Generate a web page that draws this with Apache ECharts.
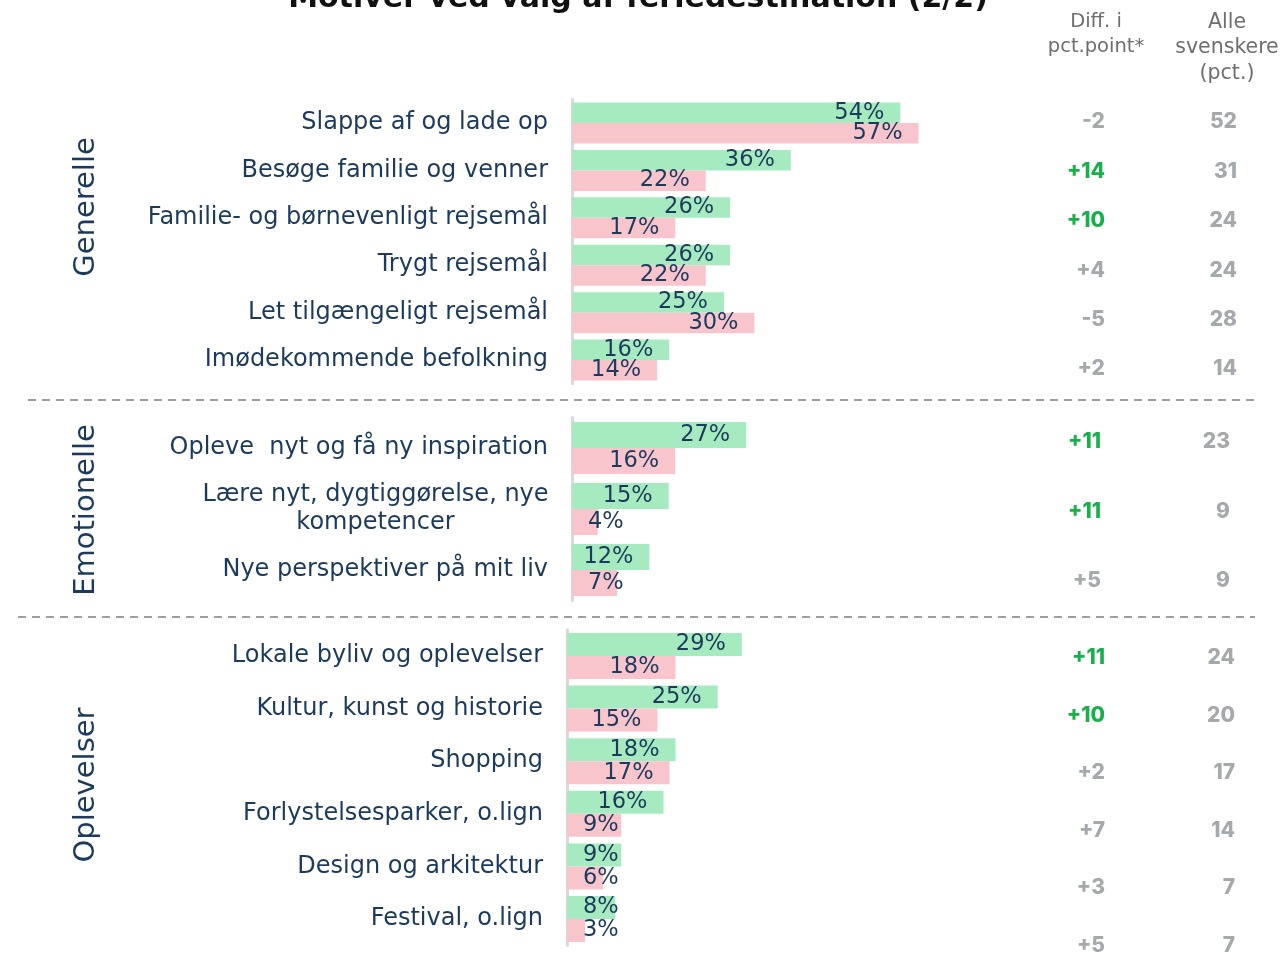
<!DOCTYPE html>
<html>
<head>
<meta charset="utf-8">
<script src="https://cdn.jsdelivr.net/npm/echarts@6/dist/echarts.min.js"></script>
<style>
html,body{margin:0;padding:0;background:#fff;}
#c{width:1281px;height:956px;}
</style>
</head>
<body>
<div id="c"></div>
<script>
// ---- Data ----
const cat1 = ['Slappe af og lade op','Besøge familie og venner','Familie- og børnevenligt rejsemål','Trygt rejsemål','Let tilgængeligt rejsemål','Imødekommende befolkning'];
const green1 = [54,36,26,26,25,16];
const pink1 = [57,22,17,22,30,14];
const diff1 = [-2,14,10,4,-5,2];
const alle1 = [52,31,24,24,28,14];

const cat2 = ['Opleve  nyt og få ny inspiration','Lære nyt, dygtiggørelse, nye\nkompetencer','Nye perspektiver på mit liv'];
const green2 = [27,15,12];
const pink2 = [16,4,7];
const diff2 = [11,11,5];
const alle2 = [23,9,9];

const cat3 = ['Lokale byliv og oplevelser','Kultur, kunst og historie','Shopping','Forlystelsesparker, o.lign','Design og arkitektur','Festival, o.lign'];
const green3 = [29,25,18,16,9,8];
const pink3 = [18,15,17,9,6,3];
const diff3 = [11,10,2,7,3,5];
const alle3 = [24,20,17,14,7,7];

const groups = ['Generelle','Emotionelle','Oplevelser'];
const title = 'Motiver ved valg af feriedestination (2/2)';
const headDiff = 'Diff. i\npct.point*';
const headAlle = 'Alle\nsvenskere\n(pct.)';

// ---- Styles ----
const FONT = 'DejaVu Sans';
const NUMFONT = 'Inter';
const NAVY = '#1B3A5C';
const GREEN = '#A6EBC0';
const PINK = '#F9C5CD';
const SIGGREEN = '#19AF4B';
const GREY = '#A6A9AC';

// right-hand columns use boundaryGap:false, so grid spans first..last row centre
const sections = [
  {cat:cat1, g:green1, p:pink1, d:diff1, a:alle1,
   main:{left:572, top:99.25, height:284.5, width:608}, bw:20.5,
   colGrid:{top:122, height:247}, diffRight:1105, alleRight:1237},
  {cat:cat2, g:green2, p:pink2, d:diff2, a:alle2,
   main:{left:572, top:417.5, height:183, width:645}, bw:26,
   colGrid:{top:442, height:139}, diffRight:1101, alleRight:1230},
  {cat:cat3, g:green3, p:pink3, d:diff3, a:alle3,
   main:{left:567, top:629.7, height:315.6, width:603}, bw:23,
   colGrid:{top:658, height:288}, diffRight:1105, alleRight:1235}
];

const grid = [], xAxis = [], yAxis = [], series = [];

function mkData(arr){
  return arr.map(v => ({value:v, label:{position: v < 12 ? 'insideLeft' : 'insideRight'}}));
}

sections.forEach((s, i) => {
  const gi = grid.length;
  grid.push({left:s.main.left, top:s.main.top, width:s.main.width, height:s.main.height, containLabel:false});
  xAxis.push({type:'value', gridIndex:gi, min:0, max:100, show:false});
  yAxis.push({type:'category', gridIndex:gi, inverse:true, data:s.cat,
    axisLine:{show:true, lineStyle:{color:'#D9D9D9', width:3}},
    axisTick:{show:false}, splitLine:{show:false},
    axisLabel:{margin:24, fontFamily:FONT, fontSize:24, color:NAVY, lineHeight:28,
      formatter: (v) => v.indexOf('\n') >= 0 ? '{c|' + v + '}' : v,
      rich:{c:{width:345, align:'center', fontFamily:FONT, fontSize:24, color:NAVY, lineHeight:28}}
    }
  });
  const labelBase = {show:true, distance:16, fontFamily:FONT, fontSize:22.5, color:NAVY, formatter:'{c}%'};
  series.push({type:'bar', name:'Gruppe', xAxisIndex:gi, yAxisIndex:gi, data:mkData(s.g),
    barWidth:s.bw, barGap:'0%', itemStyle:{color:GREEN}, label:labelBase, silent:true});
  series.push({type:'bar', name:'Sammenligning', xAxisIndex:gi, yAxisIndex:gi, data:mkData(s.p),
    barWidth:s.bw, barGap:'0%', itemStyle:{color:PINK}, label:labelBase, silent:true});

  const di = grid.length;
  grid.push({left:s.diffRight, top:s.colGrid.top, width:10, height:s.colGrid.height});
  xAxis.push({type:'value', gridIndex:di, min:0, max:1, show:false});
  yAxis.push({type:'category', gridIndex:di, inverse:true, data:s.cat, boundaryGap:false,
    axisLine:{show:false}, axisTick:{show:false}, splitLine:{show:false},
    axisLabel:{margin:0, interval:0, formatter:(v, idx) => {
        const d = s.d[idx];
        const t = (d > 0 ? '+' : '') + d;
        return d >= 10 ? '{s|' + t + '}' : '{n|' + t + '}';
      },
      rich:{s:{color:SIGGREEN, fontFamily:NUMFONT, fontSize:21, fontWeight:800},
            n:{color:GREY, fontFamily:NUMFONT, fontSize:21, fontWeight:800}}
    }
  });
  const ai = grid.length;
  grid.push({left:s.alleRight, top:s.colGrid.top, width:10, height:s.colGrid.height});
  xAxis.push({type:'value', gridIndex:ai, min:0, max:1, show:false});
  yAxis.push({type:'category', gridIndex:ai, inverse:true, data:s.cat, boundaryGap:false,
    axisLine:{show:false}, axisTick:{show:false}, splitLine:{show:false},
    axisLabel:{margin:0, interval:0, color:GREY, fontFamily:NUMFONT, fontSize:21, fontWeight:800,
      formatter:(v, idx) => String(s.a[idx])}
  });
});

const graphic = [
  {type:'text', x:638, y:-1, style:{text:title, fontFamily:FONT, fontSize:30, fontWeight:'bold', fill:'#111', align:'center', verticalAlign:'middle'}},
  {type:'text', x:1096, y:34, style:{text:headDiff, fontFamily:FONT, fontSize:19.5, fill:'#6E6E6E', align:'center', verticalAlign:'middle', lineHeight:25}},
  {type:'text', x:1227, y:48, style:{text:headAlle, fontFamily:FONT, fontSize:20.5, fill:'#6E6E6E', align:'center', verticalAlign:'middle', lineHeight:25.5}},
  {type:'text', x:86, y:207, rotation:Math.PI/2, style:{text:groups[0], fontFamily:FONT, fontSize:29, fill:NAVY, align:'center', verticalAlign:'middle'}},
  {type:'text', x:86, y:510, rotation:Math.PI/2, style:{text:groups[1], fontFamily:FONT, fontSize:29, fill:NAVY, align:'center', verticalAlign:'middle'}},
  {type:'text', x:86, y:785, rotation:Math.PI/2, style:{text:groups[2], fontFamily:FONT, fontSize:29, fill:NAVY, align:'center', verticalAlign:'middle'}},
  {type:'line', shape:{x1:28, y1:400, x2:1255, y2:400}, style:{stroke:'#7F7F7F', lineWidth:1.5, lineDash:[8,6]}},
  {type:'line', shape:{x1:18, y1:617, x2:1255, y2:617}, style:{stroke:'#7F7F7F', lineWidth:1.5, lineDash:[8,6]}}
];

const chart = echarts.init(document.getElementById('c'), null, {renderer:'canvas'});
chart.setOption({
  backgroundColor:'#fff',
  animation:false,
  grid, xAxis, yAxis, series, graphic
});
</script>
</body>
</html>
